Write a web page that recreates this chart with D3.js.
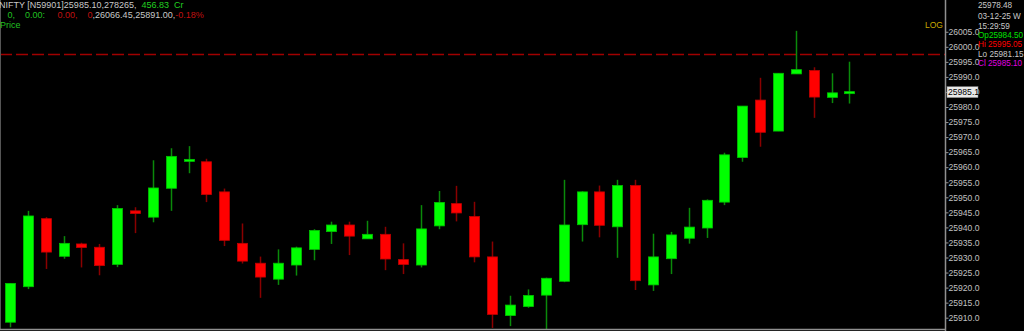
<!DOCTYPE html>
<html>
<head>
<meta charset="utf-8">
<script src="https://cdn.jsdelivr.net/npm/d3@7/dist/d3.min.js"></script>
<style>
  html, body { margin: 0; padding: 0; background: #000; overflow: hidden; }
  svg { display: block; }
  text { font-family: "Liberation Sans", Arial, sans-serif; font-size: 9px; }
</style>
</head>
<body>
<div id="chart"></div>
<script>
// 5 minute NIFTY candles
var opens = [25908.5, 25920.3, 25942.9, 25930.4, 25934.5, 25933.4, 25927.7, 25945.5, 25943.4, 25953.0,
             25962.1, 25961.8, 25951.8, 25934.7, 25928.1, 25922.8, 25927.5, 25932.7, 25938.6, 25940.8,
             25936.2, 25937.7, 25929.3, 25927.5, 25940.5, 25947.9, 25943.6, 25930.2, 25910.7, 25913.7,
             25917.5, 25922.1, 25940.9, 25951.8, 25940.2, 25953.9, 25920.9, 25929.6, 25936.4, 25939.8,
             25948.4, 25963.2, 25982.3, 25972.0, 25991.0, 25992.1, 25983.2, 25984.5];
var highs = [25921.5, 25945.5, 25943.4, 25937.1, 25934.9, 25934.5, 25947.4, 25946.7, 25962.3, 25966.3,
             25967.0, 25962.8, 25952.9, 25941.3, 25930.3, 25932.7, 25933.6, 25939.4, 25941.9, 25941.9,
             25942.2, 25940.2, 25934.7, 25947.4, 25952.1, 25953.8, 25948.5, 25935.3, 25917.3, 25919.4,
             25923.3, 25955.8, 25952.0, 25953.9, 25955.8, 25955.8, 25937.9, 25938.5, 25946.5, 25949.3,
             25964.8, 25980.3, 25989.7, 25991.2, 26005.3, 25993.2, 25991.2, 25995.05];
var lows = [25906.8, 25919.5, 25926.2, 25929.6, 25926.7, 25924.1, 25926.8, 25938.1, 25941.7, 25945.5,
            25958.0, 25948.4, 25933.8, 25928.0, 25916.6, 25920.9, 25924.0, 25929.1, 25934.5, 25930.8,
            25936.2, 25925.8, 25924.5, 25926.7, 25939.4, 25942.0, 25928.4, 25906.6, 25907.2, 25913.3,
            25905.9, 25921.8, 25935.3, 25936.7, 25929.9, 25919.2, 25918.9, 25924.5, 25934.6, 25936.5,
            25947.4, 25961.8, 25966.8, 25972.0, 25991.0, 25976.4, 25981.3, 25981.15];
var closes = [25921.4, 25943.8, 25931.8, 25934.7, 25933.3, 25927.3, 25946.3, 25944.6, 25953.1, 25963.6,
              25962.6, 25950.9, 25935.7, 25928.8, 25923.5, 25928.1, 25933.2, 25939.0, 25940.8, 25937.1,
              25937.7, 25929.5, 25927.7, 25939.5, 25948.3, 25944.8, 25930.2, 25911.1, 25914.2, 25917.4,
              25923.1, 25940.8, 25951.8, 25940.7, 25953.9, 25922.3, 25930.2, 25937.5, 25940.1, 25949.0,
              25964.1, 25980.3, 25971.6, 25991.2, 25992.4, 25983.3, 25984.7, 25985.1];

var priceTicks = d3.range(25910, 26006, 5);
var refLine = 25997.6;
var lastPrice = 25985.1;

var headerLine1 = [["NIFTY [N59901]25985.10,278265,", "#c8c8c8"], ["  456.83", "#20d020"], ["  Cr", "#20d020"]];
var headerLine2 = [["   0,", "#20c020"], ["    0.00:", "#20c020"], ["     0.00,", "#c01010"], ["    0", "#c01010"],
                   [",26066.45,25891.00,", "#c8c8c8"], ["-0.18%", "#c01010"]];
var infoLines = [["25978.48", "#c8c8c8"], ["03-12-25 W", "#c8c8c8"], ["15:29:59", "#c8c8c8"],
                 ["Op25984.50", "#00e000"], ["Hi 25995.05", "#ff0000"], ["Lo 25981.15", "#c8c8c8"],
                 ["Cl 25985.10", "#e000e0"]];

var W = 1024, H = 331;
var plotRight = 945, plotBottom = 329;

var svg = d3.select("#chart").append("svg")
    .attr("width", W)
    .attr("height", H);

svg.append("rect").attr("width", W).attr("height", H).attr("fill", "#000");

var x = d3.scaleLinear().domain([0, opens.length - 1]).range([10, 849.4]);
var y = d3.scaleLinear().domain([25910, 25980]).range([317.7, 107]);
var bodyW = 10;

svg.append("clipPath").attr("id", "plotClip")
    .append("rect").attr("x", 0).attr("y", 0).attr("width", plotRight).attr("height", plotBottom);

var plot = svg.append("g").attr("clip-path", "url(#plotClip)");

// previous close dashed line
plot.append("line")
    .attr("x1", 0).attr("x2", plotRight)
    .attr("y1", Math.round(y(refLine)) + 0.5).attr("y2", Math.round(y(refLine)) + 0.5)
    .attr("stroke", "#a00000")
    .attr("stroke-width", 1.5)
    .attr("stroke-dasharray", "12,4");

var idx = d3.range(opens.length);

plot.selectAll("line.wick")
    .data(idx)
    .enter().append("line")
    .attr("class", "wick")
    .attr("x1", function(i) { return Math.round(x(i)) + 0.5; })
    .attr("x2", function(i) { return Math.round(x(i)) + 0.5; })
    .attr("y1", function(i) { return y(highs[i]); })
    .attr("y2", function(i) { return y(lows[i]); })
    .attr("stroke", function(i) { return closes[i] >= opens[i] ? "#0a8a0a" : "#8a0000"; })
    .attr("stroke-width", 1.5);

plot.selectAll("rect.body")
    .data(idx)
    .enter().append("rect")
    .attr("class", "body")
    .attr("x", function(i) { return Math.round(x(i)) + 0.5 - bodyW / 2; })
    .attr("y", function(i) { return y(Math.max(opens[i], closes[i])); })
    .attr("width", bodyW)
    .attr("height", function(i) {
        return Math.max(2, Math.abs(y(opens[i]) - y(closes[i])));
    })
    .attr("fill", function(i) { return closes[i] >= opens[i] ? "#00ff00" : "#ff0000"; })
    .attr("stroke", function(i) { return closes[i] >= opens[i] ? "#00c000" : "#c00000"; })
    .attr("stroke-width", 0.8);

// frame lines
svg.append("line").attr("x1", 0.5).attr("x2", 0.5).attr("y1", 0).attr("y2", plotBottom)
    .attr("stroke", "#555");
svg.append("line").attr("x1", 0).attr("x2", plotRight).attr("y1", plotBottom + 0.5).attr("y2", plotBottom + 0.5)
    .attr("stroke", "#909090").attr("stroke-width", 1.5);

// price axis
var axis = d3.axisRight(y)
    .tickValues(priceTicks)
    .tickFormat(d3.format(".1f"))
    .tickSize(3)
    .tickPadding(0);

var axisG = svg.append("g")
    .attr("transform", "translate(" + (plotRight + 0.5) + ",0)")
    .call(axis);
axisG.select(".domain").remove();
axisG.selectAll(".tick line").attr("stroke", "#909090");
axisG.selectAll(".tick text")
    .attr("fill", "#c0c0c0")
    .style("font-size", "8.6px");

svg.append("line").attr("x1", plotRight + 0.5).attr("x2", plotRight + 0.5).attr("y1", 0).attr("y2", H)
    .attr("stroke", "#909090").attr("stroke-width", 1.5);

// last price box
var lpY = y(lastPrice);
svg.append("rect")
    .attr("x", plotRight + 2).attr("y", lpY - 5)
    .attr("width", 31).attr("height", 11)
    .attr("fill", "#e8e8e8").attr("stroke", "#808080").attr("stroke-width", 0.5);
svg.append("text")
    .attr("x", plotRight + 3).attr("y", lpY + 3.3)
    .attr("fill", "#000")
    .style("font-size", "8.6px")
    .text(d3.format(".1f")(lastPrice));

svg.append("text")
    .attr("x", 925).attr("y", 28)
    .attr("fill", "#c8a800")
    .style("font-size", "8.5px")
    .text("LOG");

// header texts
function textRow(parent, parts, px, py) {
    var t = parent.append("text")
        .attr("x", px).attr("y", py)
        .attr("xml:space", "preserve")
        .style("white-space", "pre");
    parts.forEach(function(p) {
        t.append("tspan").attr("fill", p[1]).text(p[0]);
    });
}

textRow(svg, headerLine1, -1, 8);
textRow(svg, headerLine2, 0, 18);
svg.append("text").attr("x", 0).attr("y", 28).attr("fill", "#20c020").text("Price");

infoLines.forEach(function(l, k) {
    svg.append("text")
        .attr("x", 978)
        .attr("y", [8, 18.5, 28.5, 38, 47.3, 56.6, 65.9][k])
        .attr("fill", l[1])
        .style("font-size", "8.2px")
        .style("white-space", "pre")
        .text(l[0]);
});
</script>
</body>
</html>
